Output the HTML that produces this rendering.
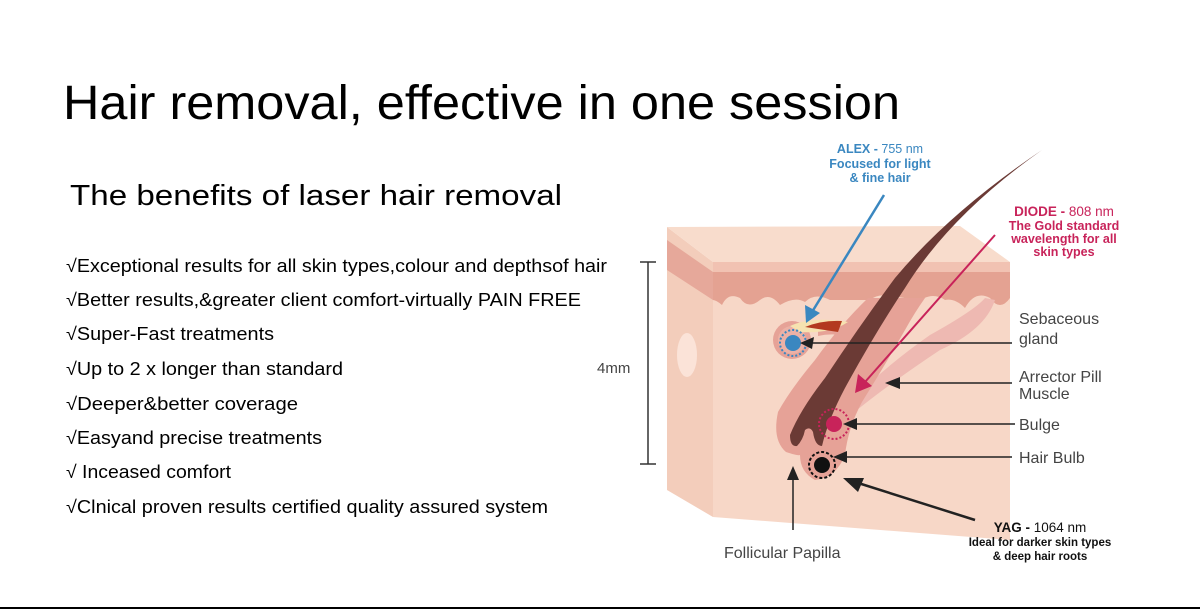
<!DOCTYPE html>
<html><head><meta charset="utf-8"><style>
html,body{margin:0;padding:0;background:#fff;}
svg{display:block;font-family:"Liberation Sans",sans-serif;}
</style></head><body>
<svg width="1200" height="612" viewBox="0 0 1200 612" xmlns="http://www.w3.org/2000/svg">
<rect width="1200" height="612" fill="#fff"/>
<text x="63" y="119" font-size="48" fill="#000" textLength="837" lengthAdjust="spacingAndGlyphs">Hair removal, effective in one session</text>
<text x="70" y="205" font-size="29" fill="#000" textLength="492" lengthAdjust="spacingAndGlyphs">The benefits of laser hair removal</text>
<g font-size="18" fill="#000">
<text x="66" y="272" textLength="541" lengthAdjust="spacingAndGlyphs">√Exceptional results for all skin types,colour and depthsof hair</text>
<text x="66" y="306" textLength="515" lengthAdjust="spacingAndGlyphs">√Better results,&amp;greater client comfort-virtually PAIN FREE</text>
<text x="66" y="340" textLength="208" lengthAdjust="spacingAndGlyphs">√Super-Fast treatments</text>
<text x="66" y="375" textLength="277" lengthAdjust="spacingAndGlyphs">√Up to 2 x longer than standard</text>
<text x="66" y="410" textLength="232" lengthAdjust="spacingAndGlyphs">√Deeper&amp;better  coverage</text>
<text x="66" y="444" textLength="256" lengthAdjust="spacingAndGlyphs">√Easyand precise treatments</text>
<text x="66" y="478" textLength="165" lengthAdjust="spacingAndGlyphs">√ Inceased comfort</text>
<text x="66" y="513" textLength="482" lengthAdjust="spacingAndGlyphs">√Clnical proven results certified quality assured system</text>
</g>
<g stroke="#333" stroke-width="1.5">
<line x1="648" y1="262" x2="648" y2="464"/>
<line x1="640" y1="262" x2="656" y2="262"/>
<line x1="640" y1="464" x2="656" y2="464"/>
</g>
<text x="597" y="373" font-size="15" fill="#444">4mm</text>
<polygon points="667,227 713,262 713,517 667,490" fill="#f3cdbb"/>
<polygon points="667,227 960,226 1010,262 713,262" fill="#f8dccc"/>
<polygon points="713,262 1010,262 1010,540 713,517" fill="#f7d7c7"/>
<polygon points="667,240 713,272 713,300 667,270" fill="#e6a89a"/>
<path d="M713,272 L1010,270 L1010,298 Q1000,312 990,298 Q975,290 965,308 Q955,298 945,300 Q930,290 915,305 Q905,295 895,298 Q880,292 870,300 L830,300 Q815,292 805,302 Q795,296 780,305 Q770,292 760,300 Q748,310 740,298 Q728,292 722,305 Q716,300 713,300 Z" fill="#e4a292"/>
<rect x="713" y="262" width="297" height="10" fill="#f1c2b2"/>
<ellipse cx="687" cy="355" rx="10" ry="22" fill="#fbe3d8"/>
<path d="M995,300 Q985,330 940,350 Q880,390 845,420 L840,412 Q880,370 930,335 Q975,310 985,298 Z" fill="#eeb9b2"/>
<path d="M868,298 Q840,325 815,360 Q790,390 778,412 Q772,440 786,452 Q798,456 800,455 Q800,472 815,480 Q836,478 845,455 Q848,428 862,402 Q885,365 905,330 Q915,312 925,298 Z" fill="#e6a297"/>
<path d="M818,328 Q840,322 860,330 L855,338 Q835,332 818,336 Z" fill="#e6a297"/>
<circle cx="792" cy="340" r="19" fill="#e6a297"/>
<circle cx="792" cy="340" r="14" fill="#ecb1a6"/>
<path d="M790,326 Q812,316 848,322 Q830,334 800,332 Z" fill="#f6e2b0"/>
<path d="M805,327 Q822,320 842,321 L838,332 Z" fill="#b33a1f"/>
<path d="M1042,150 Q950,212 895,278 Q860,325 825,378 Q800,410 790,435 Q790,447 797,446 Q803,440 805,430 Q810,426 813,432 Q815,446 822,446 Q828,420 845,388 Q875,333 905,288 Q950,215 1042,150 Z" fill="#6b3a35"/>
<circle cx="793" cy="343" r="13" fill="none" stroke="#3a87c0" stroke-width="2" stroke-dasharray="2,2"/>
<circle cx="793" cy="343" r="8" fill="#3a87c0"/>
<circle cx="834" cy="424" r="15" fill="none" stroke="#c8235a" stroke-width="2" stroke-dasharray="2,2"/>
<circle cx="834" cy="424" r="8" fill="#c8235a"/>
<circle cx="822" cy="465" r="13" fill="none" stroke="#111" stroke-width="2" stroke-dasharray="3,2"/>
<circle cx="822" cy="465" r="8" fill="#111"/>
<g stroke="#222" stroke-width="1.5">
<line x1="1012" y1="343" x2="808" y2="343"/>
<line x1="1012" y1="383" x2="895" y2="383"/>
<line x1="1015" y1="424" x2="850" y2="424"/>
<line x1="1012" y1="457" x2="840" y2="457"/>
<line x1="793" y1="530" x2="793" y2="475"/>
<line x1="975" y1="520" x2="855" y2="482" stroke-width="2.5"/>
</g>
<g fill="#222">
<polygon points="800,343 814,337 812,349"/>
<polygon points="885,383 900,377 900,389"/>
<polygon points="843,424 857,418 857,430"/>
<polygon points="833,457 847,451 847,463"/>
<polygon points="793,466 787,480 799,480"/>
<polygon points="843,478 864,478 858,492"/>
</g>
<line x1="884" y1="195" x2="812" y2="312" stroke="#3a87c0" stroke-width="2.5"/>
<polygon points="806,323 805,305 820,313" fill="#3a87c0"/>
<line x1="995" y1="235" x2="865" y2="382" stroke="#c8235a" stroke-width="2"/>
<polygon points="855,393 858,374 872,386" fill="#c8235a"/>
<g font-size="16" fill="#444">
<text x="1019" y="324">Sebaceous</text>
<text x="1019" y="344">gland</text>
<text x="1019" y="382">Arrector Pill</text>
<text x="1019" y="399">Muscle</text>
<text x="1019" y="430">Bulge</text>
<text x="1019" y="463">Hair Bulb</text>
<text x="724" y="558">Follicular Papilla</text>
</g>
<g font-size="12.5" font-weight="bold" text-anchor="middle">
<text x="880" y="153" fill="#3a87c0">ALEX - <tspan font-weight="normal">755 nm</tspan></text>
<text x="880" y="168" fill="#3a87c0">Focused for light</text>
<text x="880" y="182" fill="#3a87c0">&amp; fine hair</text>
<text x="1064" y="216" fill="#c8235a" font-size="13.5">DIODE - <tspan font-weight="normal">808 nm</tspan></text>
<text x="1064" y="230" fill="#c8235a">The Gold standard</text>
<text x="1064" y="243" fill="#c8235a">wavelength for all</text>
<text x="1064" y="256" fill="#c8235a">skin types</text>
<text x="1040" y="532" fill="#111" font-size="13.5">YAG - <tspan font-weight="normal">1064 nm</tspan></text>
<text x="1040" y="546" fill="#111" font-size="11.5">Ideal for darker skin types</text>
<text x="1040" y="560" fill="#111" font-size="11.5">&amp; deep hair roots</text>
</g>
<line x1="0" y1="608" x2="1200" y2="608" stroke="#000" stroke-width="2"/>
</svg>
</body></html>
